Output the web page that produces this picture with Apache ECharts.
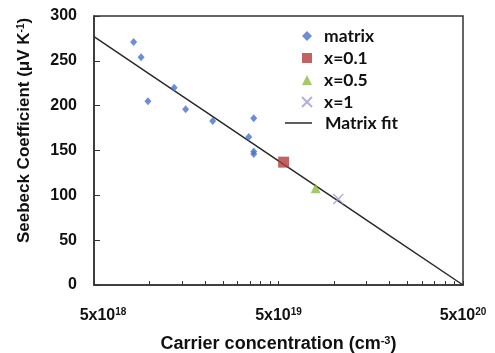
<!DOCTYPE html>
<html>
<head>
<meta charset="utf-8">
<script src="https://cdn.jsdelivr.net/npm/echarts@6/dist/echarts.min.js"></script>
<style>
  html, body { margin: 0; padding: 0; background: #fff; }
  #chart { width: 495px; height: 353px; }
</style>
</head>
<body>
<div id="chart"></div>
<script>
// Carrier concentration (cm^-3) and Seebeck coefficient (µV/K)
const matrixN = [8.2e18, 9.0e18, 9.8e18, 1.36e19, 1.57e19, 2.2e19, 3.45e19, 3.67e19, 3.67e19, 3.67e19];
const matrixS = [271, 254, 205, 220, 196, 183, 165, 186, 149, 146];

const x01N = [5.33e19];
const x01S = [137];
const x05N = [7.95e19];
const x05S = [108];
const x1N = [1.055e20];
const x1S = [96];

const fitN = [5e18, 1e19, 2e19, 5e19, 1e20, 2e20, 5e20];
const fitS = [277, 235.3, 193.6, 138.5, 96.8, 55.1, 0];

const xMin = 5e18, xMax = 5e20;
const xLabelValues = [5e18, 5e19, 5e20];
const xTickValues = [5e18, 1e19, 1.5e19, 2e19, 2.5e19, 3e19, 3.5e19, 4e19, 4.5e19,
                     5e19, 1e20, 1.5e20, 2e20, 2.5e20, 3e20, 3.5e20, 4e20, 4.5e20, 5e20];
const yMin = 0, yMax = 300, yStep = 50;

const pairs = (xs, ys) => xs.map((x, i) => [x, ys[i]]);
// the log extent's upper end comes back from pow() a hair below xMax; keep the last value inside it
const insideExtent = (vs) => vs.map(v => (v >= xMax ? v * (1 - 1e-12) : v));

const axisColor = '#333';
const labelFont = '"Liberation Sans", Arial, sans-serif';
const legendFont = 'Lato, "Open Sans", sans-serif';
const supStyle = { fontFamily: labelFont, fontWeight: 'bold', fontSize: 10, color: '#111',
                   verticalAlign: 'top', padding: [0, 0, 7, 0] };
const baseLabel = { fontFamily: labelFont, fontWeight: 'bold', fontSize: 16, color: '#111' };

const chart = echarts.init(document.getElementById('chart'), null, { renderer: 'canvas' });

chart.setOption({
  animation: false,
  backgroundColor: '#fff',
  grid: {
    left: 94, right: 32, top: 16, bottom: 68,
    containLabel: false,
    outerBoundsMode: 'none',
    show: true, borderColor: axisColor, borderWidth: 1.5, backgroundColor: 'transparent'
  },
  legend: [
    {
      data: ['matrix', 'x=0.1', 'x=0.5', 'x=1'],
      orient: 'vertical',
      left: 301, top: 27,
      padding: 0,
      itemWidth: 10, itemHeight: 10,
      itemGap: 4,
      textStyle: { fontFamily: legendFont, fontWeight: 'bold', fontSize: 17.5, color: '#111',
                   lineHeight: 15, padding: [0, 0, 0, 7] }
    },
    {
      data: [{ name: 'Matrix fit', icon: 'rect' }],
      orient: 'vertical',
      left: 285, top: 114,
      padding: 0,
      itemWidth: 27, itemHeight: 1.5,
      itemStyle: { color: '#2a2a2a' },
      textStyle: { fontFamily: legendFont, fontWeight: 'bold', fontSize: 17.5, color: '#111',
                   lineHeight: 15, padding: [0, 0, 0, 8] }
    }
  ],
  xAxis: {
    type: 'log',
    logBase: 10,
    min: xMin, max: xMax,
    name: 'Carrier concentration (cm{s|-3})',
    nameLocation: 'middle',
    nameGap: 50,
    nameTextStyle: {
      fontFamily: labelFont, fontWeight: 'bold', fontSize: 18, color: '#111',
      rich: { s: Object.assign({}, supStyle, { fontSize: 11 }) }
    },
    axisLine: { show: true, lineStyle: { color: axisColor, width: 1.5 } },
    axisTick: { show: true, inside: true, length: 4, customValues: insideExtent(xTickValues),
                lineStyle: { color: axisColor, width: 1 } },
    minorTick: { show: false },
    splitLine: { show: false },
    axisLabel: {
      customValues: insideExtent(xLabelValues),
      showMinLabel: true,
      showMaxLabel: true,
      hideOverlap: false,
      margin: 22,
      formatter: function (v) {
        const e = Math.round(Math.log10(v / 5));
        // the leftmost label sits a little right of its tick
        return (v <= xMin * 1.01 ? '{sp|\u00a0}' : '') + '{b|5x10}{s|' + e + '}';
      },
      rich: {
        b: baseLabel,
        sp: Object.assign({}, baseLabel, { width: 18 }),
        s: supStyle
      }
    }
  },
  yAxis: {
    type: 'value',
    min: yMin, max: yMax, interval: yStep,
    name: 'Seebeck Coefficient (μV K{s|-1})',
    nameLocation: 'middle',
    nameGap: 61,
    nameRotate: 90,
    nameTextStyle: {
      fontFamily: labelFont, fontWeight: 'bold', fontSize: 17, color: '#111',
      padding: [0, 0, 0, 40],
      rich: { s: supStyle }
    },
    axisLine: { show: true, lineStyle: { color: axisColor, width: 1.5 } },
    axisTick: { show: true, inside: true, length: 6, lineStyle: { color: axisColor, width: 1 } },
    splitLine: { show: false },
    axisLabel: Object.assign({ margin: 17 }, baseLabel)
  },
  series: [
    {
      name: 'Matrix fit',
      type: 'line',
      data: pairs(fitN, fitS),
      showSymbol: false,
      symbol: 'none',
      lineStyle: { color: '#2a2a2a', width: 1.5 },
      itemStyle: { color: '#2a2a2a' },
      z: 2
    },
    {
      name: 'matrix',
      type: 'scatter',
      data: pairs(matrixN, matrixS),
      symbol: 'diamond',
      symbolSize: [7, 8],
      itemStyle: { color: '#4a70d0' },
      z: 3
    },
    {
      name: 'x=0.1',
      type: 'scatter',
      data: pairs(x01N, x01S),
      symbol: 'rect',
      symbolSize: 11,
      itemStyle: { color: '#b23c3c' },
      z: 3
    },
    {
      name: 'x=0.5',
      type: 'scatter',
      data: pairs(x05N, x05S),
      symbol: 'triangle',
      symbolSize: 10,
      itemStyle: { color: '#8dbb3e' },
      z: 3
    },
    {
      name: 'x=1',
      type: 'scatter',
      data: pairs(x1N, x1S),
      symbol: 'path://M0,0 L10,10 M10,0 L0,10',
      symbolSize: 10,
      itemStyle: { color: 'transparent', borderColor: '#a596d8', borderWidth: 1.5 },
      z: 3
    }
  ]
});
</script>
</body>
</html>
